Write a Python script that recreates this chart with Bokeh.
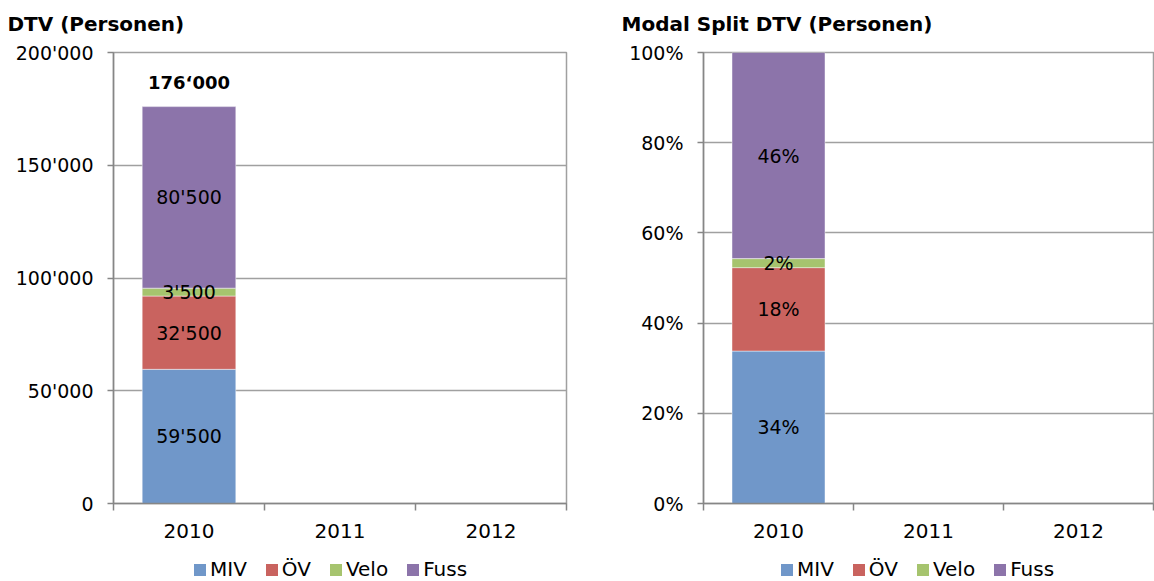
from bokeh.plotting import figure
from bokeh.layouts import row, column
from bokeh.models import (ColumnDataSource, Range1d, LinearAxis,
                          FixedTicker, Legend, LegendItem, Label, CustomJSTickFormatter, Grid)
from bokeh.core.properties import value
from bokeh.embed import file_html
from bokeh.resources import INLINE

# ---------------- data ----------------
years = ["2010", "2011", "2012"]
modes = ["MIV", "ÖV", "Velo", "Fuss"]
mode_colors = ["#7097C9", "#C9635F", "#A6C46E", "#8C74AA"]

dtv_title = "DTV (Personen)"
dtv_2010 = [59500, 32500, 3500, 80500]
dtv_labels = ["59'500", "32'500", "3'500", "80'500"]
dtv_total_label = "176‘000"
dtv_ticks = [0, 50000, 100000, 150000, 200000]
dtv_tick_labels = ["0", "50'000", "100'000", "150'000", "200'000"]

share_title = "Modal Split DTV (Personen)"
share_2010 = [33.8, 18.5, 2.0, 45.7]
share_labels = ["34%", "18%", "2%", "46%"]
share_ticks = [0, 20, 40, 60, 80, 100]
share_tick_labels = ["0%", "20%", "40%", "60%", "80%", "100%"]

FONT = "DejaVu Sans"
AXIS_GRAY = "#868686"
GRID_GRAY = "#a0a0a0"


def blank_fig(width, height):
    f = figure(width=width, height=height, x_range=Range1d(0, width), y_range=Range1d(0, height),
               output_backend="svg", toolbar_location=None,
               x_axis_location=None, y_axis_location=None,
               min_border_left=0, min_border_right=0, min_border_top=0, min_border_bottom=0)
    f.center = [r for r in f.center if not isinstance(r, Grid)]
    f.outline_line_color = None
    return f


def header(title, width, height, tx, ty):
    h = blank_fig(width, height)
    h.add_layout(Label(x=tx, y=height - ty, text=title, text_font=FONT, text_font_size="20px",
                       text_font_style="bold", text_baseline="middle", text_align="left",
                       text_color="black"))
    return h


def legend_fig(width, height, lx, ly):
    g = blank_fig(width, height)
    # legend-only renderers (zero-size, never visible in the frame)
    rs = [g.vbar(x=[0], top=[0], width=0, fill_color=c, line_color=None) for c in mode_colors]
    legend = Legend(items=[LegendItem(label=m, renderers=[r]) for m, r in zip(modes, rs)],
                    orientation="horizontal", location=(lx, ly),
                    glyph_width=15, glyph_height=15, label_standoff=3, spacing=17,
                    padding=0, margin=0, label_height=20,
                    label_text_font=FONT, label_text_font_size="20px",
                    label_text_color="black", label_text_baseline="middle",
                    border_line_color=None, background_fill_alpha=0)
    g.add_layout(legend)
    return g


def make_chart(vals, labels, ticks, tick_labels, total_label,
               width, height, b_left, b_right, b_top, b_bottom):
    ymax = ticks[-1]
    n = len(years)
    p = figure(x_range=Range1d(0, n), y_range=Range1d(0, ymax),
               width=width, height=height, output_backend="svg", toolbar_location=None,
               x_axis_location=None, y_axis_location=None,
               min_border_left=b_left, min_border_right=b_right,
               min_border_top=b_top, min_border_bottom=b_bottom)
    p.center = [r for r in p.center if not isinstance(r, Grid)]
    p.outline_line_color = GRID_GRAY
    p.outline_line_width = 1.5
    p.background_fill_color = "white"
    p.border_fill_color = "white"

    yticker = FixedTicker(ticks=ticks)
    fmt = CustomJSTickFormatter(args=dict(t=ticks, l=tick_labels),
                                code="const i = t.indexOf(tick); return i >= 0 ? l[i] : '';")
    yax = LinearAxis(ticker=yticker, formatter=fmt,
                     major_tick_out=6, major_tick_in=0, minor_tick_line_color=None,
                     axis_line_color=AXIS_GRAY, axis_line_width=1.5,
                     major_tick_line_color=AXIS_GRAY, major_tick_line_width=1.5,
                     major_label_standoff=14,
                     major_label_text_font=FONT, major_label_text_font_size="19px",
                     major_label_text_color="black")
    p.add_layout(yax, "left")
    p.add_layout(Grid(dimension=1, ticker=yticker, grid_line_color=GRID_GRAY,
                      grid_line_width=1.5))

    # category axis: labels at category centres, tick marks at category boundaries
    centers = [i + 0.5 for i in range(n)]
    xticker = FixedTicker(ticks=centers, minor_ticks=list(range(n + 1)))
    xfmt = CustomJSTickFormatter(args=dict(cats=years),
                                 code="return cats[Math.floor(tick)];")
    xax = LinearAxis(ticker=xticker, formatter=xfmt,
                     major_tick_line_color=None, major_tick_out=0, major_tick_in=0,
                     minor_tick_out=7, minor_tick_in=0,
                     minor_tick_line_color=AXIS_GRAY, minor_tick_line_width=1.5,
                     axis_line_color=AXIS_GRAY, axis_line_width=1.5,
                     major_label_standoff=13,
                     major_label_text_font=FONT, major_label_text_font_size="20px",
                     major_label_text_color="black")
    p.add_layout(xax, "below")

    src = ColumnDataSource({"x": [centers[0]], **{m: [v] for m, v in zip(modes, vals)}})
    p.vbar_stack(modes, x="x", width=0.62, color=mode_colors, source=src,
                 line_color="white", line_alpha=0.45, line_width=1)

    # segment labels
    mids, acc = [], 0
    for v in vals:
        mids.append(acc + v / 2)
        acc += v
    lsrc = ColumnDataSource({"x": [centers[0]] * len(vals), "y": mids, "t": labels})
    p.text(x="x", y="y", text="t", source=lsrc, text_align="center", text_baseline="middle",
           text_font=value(FONT), text_font_size="19px", text_color="black")

    if total_label:
        p.text(x=[centers[0]], y=[acc], text=[total_label], y_offset=-24,
               text_align="center", text_baseline="middle",
               text_font=value(FONT), text_font_size="18px", text_font_style="bold",
               text_color="black")
    return p


W1, W2 = 580, 574
H_HEAD, H_CHART, H_LEG = 36, 517, 28

h1 = header(dtv_title, W1, H_HEAD, 7, 23)
h2 = header(share_title, W2, H_HEAD, 41, 23)
p1 = make_chart(dtv_2010, dtv_labels, dtv_ticks, dtv_tick_labels, dtv_total_label,
                width=W1, height=H_CHART, b_left=113, b_right=14, b_top=16, b_bottom=50)
p2 = make_chart(share_2010, share_labels, share_ticks, share_tick_labels, None,
                width=W2, height=H_CHART, b_left=123, b_right=1, b_top=16, b_bottom=50)
l1 = legend_fig(W1, H_LEG, 192, 0)
l2 = legend_fig(W2, H_LEG, 199, 0)

layout = column(row(h1, h2), row(p1, p2), row(l1, l2))
open("out.html", "w").write(file_html(layout, INLINE))
